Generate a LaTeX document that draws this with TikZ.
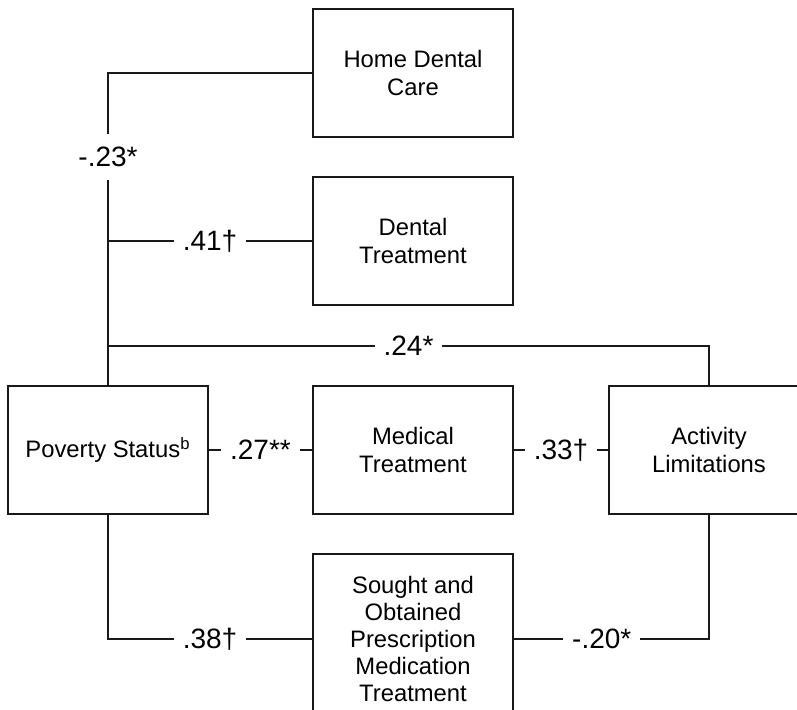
\documentclass[tikz,border=0pt]{standalone}
\usepackage{fontspec}
\setmainfont{Liberation Sans}
\usetikzlibrary{calc}
\usetikzlibrary{positioning}

\begin{document}
\begin{tikzpicture}[x=0.5pt, y=-0.5pt,
    var/.style={rectangle, draw=black!90, line width=1pt, inner sep=0pt, minimum width=100pt, minimum height=64pt, align=center, font=\fontsize{11.9}{13.6}\selectfont},
    coef/.style={fill=white, inner xsep=4.5pt, inner ysep=6.5pt, text height=9.9pt, text depth=0pt, font=\fontsize{14}{16}\selectfont},
    link/.style={draw=black!90, line width=1pt}]
    \useasboundingbox (0,0) rectangle (797,709);

    \node [var] (poverty) at (108,450) {Poverty Status\textsuperscript{b}};
    \node [var, right=51.5pt of poverty] (medical) {Medical\\Treatment};
    \node [var, right=47pt of medical] (activity) {Activity\\Limitations};
    \node [var, above=39.5pt of medical] (dental) {Dental\\Treatment};
    \node [var, above=19pt of dental] (homecare) {Home Dental\\Care};
    \node [var, minimum height=85pt, below=19pt of medical] (sought) {Sought and\\Obtained\\Prescription\\Medication\\Treatment};

    \coordinate (j41) at (poverty.north |- dental.west);
    \coordinate (j24) at ($(dental.south)!0.5!(medical.north)$);

    \draw [link] (homecare.west) -| node [coef, pos=0.75] {-.23*} (j41);
    \draw [link] (j41) -- (poverty.north);
    \draw [link] (j41) -- node [coef] {.41†} (dental.west);
    \draw [link] (poverty.north |- j24) -- node [coef] {.24*} (activity.north |- j24) -- (activity.north);
    \draw [link] (poverty.east) -- node [coef] {.27**} (medical.west);
    \draw [link] (medical.east) -- node [coef] {.33†} (activity.west);
    \draw [link] (poverty.south) |- node [coef, pos=0.75] {.38†} (sought.west);
    \draw [link] (sought.east) -| node [coef, pos=0.225] {-.20*} (activity.south);
\end{tikzpicture}
\end{document}
